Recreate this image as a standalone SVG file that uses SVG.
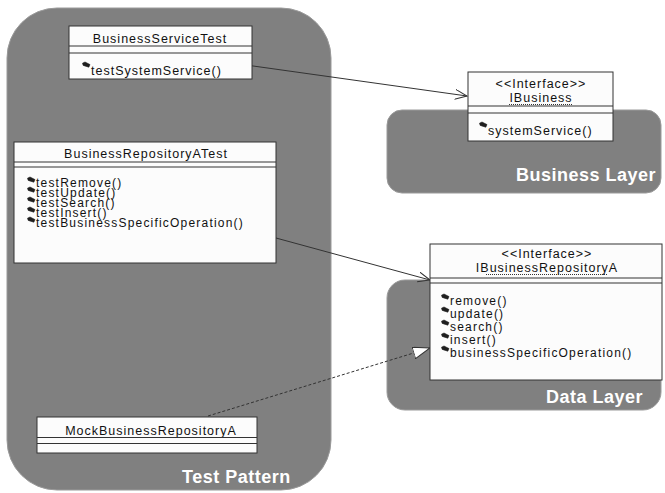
<svg xmlns="http://www.w3.org/2000/svg" width="665" height="493" viewBox="0 0 665 493">
  <style>
    .region { fill: #808080; stroke: #9a9a9a; stroke-width: 1; }
    .region-label { font-family: "Liberation Sans", Arial, sans-serif; font-size: 18px; font-weight: bold; fill: #ffffff; letter-spacing: 0.5px; }
    .box { fill: #fcfcfc; stroke: #333333; stroke-width: 1; }
    .sep { stroke: #333333; stroke-width: 1; }
    .t { font-family: "Liberation Sans", Arial, sans-serif; font-size: 12.5px; fill: #111111; letter-spacing: 1px; }
    .m { font-family: "Liberation Sans", Arial, sans-serif; font-size: 12px; fill: #111111; letter-spacing: 1.2px; }
    .c { text-anchor: middle; }
    .uline { stroke: #333333; stroke-width: 1; stroke-dasharray: 1 1; }
    .assoc { fill: none; stroke: #333333; stroke-width: 1; }
    .realize { fill: none; stroke: #333333; stroke-width: 1; stroke-dasharray: 3 2; }
    .op { fill: #1e1e1e; stroke: #1e1e1e; stroke-width: 0.6; stroke-linejoin: round; }
  </style>
  <defs>
    <!-- operation icon -->
    <path id="op" class="op" d="M0.5 1.2 L3 0 L8 2.6 L6.8 5.2 L1.2 3.4 Z"/>
    <marker id="open" markerUnits="userSpaceOnUse" markerWidth="14" markerHeight="12" refX="12" refY="5" orient="auto">
      <path d="M0 0 L12 5 L0 10" fill="none" stroke="#333333" stroke-width="1"/>
    </marker>
    <marker id="hollow" markerUnits="userSpaceOnUse" markerWidth="20" markerHeight="14" refX="17" refY="6" orient="auto">
      <path d="M0 0 L17 6 L0 12 Z" fill="#ffffff" stroke="#333333" stroke-width="1"/>
    </marker>
  </defs>

  <!-- package regions -->
  <g id="test-pattern">
    <rect class="region" x="7" y="8" width="324" height="482" rx="50" ry="50"/>
    <text class="region-label" x="182" y="483">Test Pattern</text>
  </g>
  <g id="business-layer">
    <rect class="region" x="387" y="110" width="274" height="83" rx="15" ry="15"/>
    <text class="region-label" x="516" y="181">Business Layer</text>
  </g>
  <g id="data-layer">
    <rect class="region" x="387" y="280" width="274" height="130" rx="18" ry="18"/>
    <text class="region-label" x="546" y="403">Data Layer</text>
  </g>

  <!-- connectors -->
  <g id="connectors">
    <line class="assoc" x1="246" y1="65" x2="467" y2="96" marker-end="url(#open)"/>
    <line class="assoc" x1="276" y1="238" x2="430" y2="280" marker-end="url(#open)"/>
    <line class="realize" x1="208" y1="416" x2="430" y2="348" marker-end="url(#hollow)"/>
  </g>

  <!-- classes -->
  <g id="BusinessServiceTest">
    <rect class="box" x="69" y="26" width="183" height="53"/>
    <text class="t c" x="160" y="43">BusinessServiceTest</text>
    <line class="sep" x1="69" y1="46" x2="252" y2="46"/>
    <line class="sep" x1="69" y1="53" x2="252" y2="53"/>
    <use href="#op" x="82" y="62"/>
    <text class="t" x="91" y="75">testSystemService()</text>
  </g>

  <g id="IBusiness">
    <rect class="box" x="468" y="72" width="145" height="69"/>
    <text class="t c" x="541" y="88">&lt;&lt;Interface&gt;&gt;</text>
    <text class="t c" x="541" y="102">IBusiness</text>
    <line class="uline" x1="509" y1="104.5" x2="573" y2="104.5"/>
    <line class="sep" x1="468" y1="106" x2="613" y2="106"/>
    <line class="sep" x1="468" y1="113" x2="613" y2="113"/>
    <use href="#op" x="479" y="122"/>
    <text class="t" x="488" y="135">systemService()</text>
  </g>

  <g id="BusinessRepositoryATest">
    <rect class="box" x="14" y="142" width="262" height="121"/>
    <text class="t c" x="146" y="158">BusinessRepositoryATest</text>
    <line class="sep" x1="14" y1="162" x2="276" y2="162"/>
    <line class="sep" x1="14" y1="167" x2="276" y2="167"/>
    <use href="#op" x="27" y="177"/>
    <text class="m" x="36" y="187">testRemove()</text>
    <use href="#op" x="27" y="187"/>
    <text class="m" x="36" y="197">testUpdate()</text>
    <use href="#op" x="27" y="197"/>
    <text class="m" x="36" y="207">testSearch()</text>
    <use href="#op" x="27" y="207"/>
    <text class="m" x="36" y="217">testInsert()</text>
    <use href="#op" x="27" y="217"/>
    <text class="m" x="36" y="227">testBusinessSpecificOperation()</text>
  </g>

  <g id="IBusinessRepositoryA">
    <rect class="box" x="430" y="244" width="232" height="136"/>
    <text class="t c" x="547" y="258">&lt;&lt;Interface&gt;&gt;</text>
    <text class="t c" x="547" y="272">IBusinessRepositoryA</text>
    <line class="uline" x1="486" y1="274.5" x2="607" y2="274.5"/>
    <line class="sep" x1="430" y1="278" x2="662" y2="278"/>
    <line class="sep" x1="430" y1="283" x2="662" y2="283"/>
    <use href="#op" x="441" y="294"/>
    <text class="m" x="450" y="305">remove()</text>
    <use href="#op" x="441" y="307"/>
    <text class="m" x="450" y="318">update()</text>
    <use href="#op" x="441" y="320"/>
    <text class="m" x="450" y="331">search()</text>
    <use href="#op" x="441" y="333"/>
    <text class="m" x="450" y="344">insert()</text>
    <use href="#op" x="441" y="346"/>
    <text class="m" x="450" y="357">businessSpecificOperation()</text>
  </g>

  <g id="MockBusinessRepositoryA">
    <rect class="box" x="37" y="417" width="220" height="36"/>
    <text class="t c" x="151" y="435">MockBusinessRepositoryA</text>
    <line class="sep" x1="37" y1="437.5" x2="257" y2="437.5"/>
    <line class="sep" x1="37" y1="443.5" x2="257" y2="443.5"/>
  </g>
</svg>
